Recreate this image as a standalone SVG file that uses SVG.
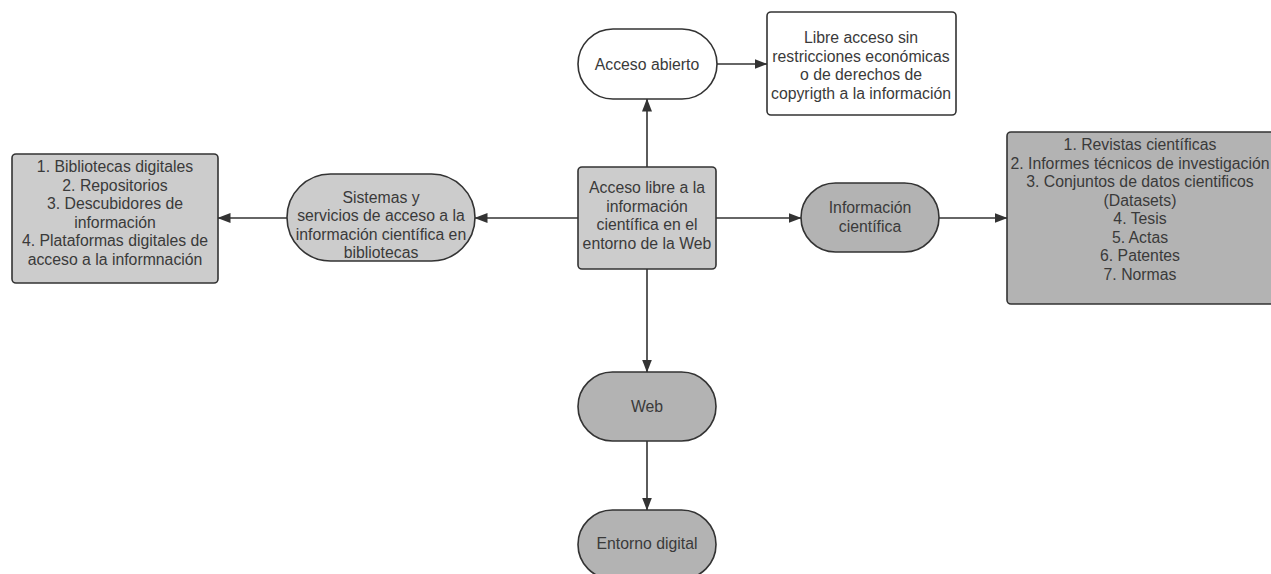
<svg xmlns="http://www.w3.org/2000/svg" width="1271" height="574" viewBox="0 0 1271 574">
<defs>
<marker id="ah" viewBox="0 0 13 10" refX="12.5" refY="5" markerWidth="13" markerHeight="10" markerUnits="userSpaceOnUse" orient="auto">
<path d="M0,0 L13,5 L0,10 Z" fill="#333333"/>
</marker>
<style>
.n{stroke:#333333;stroke-width:1.6}
.l{fill:#cccccc}
.d{fill:#b3b3b3}
.w{fill:#ffffff}
text{font-family:"Liberation Sans",Arial,sans-serif;font-size:15.8px;fill:#3a3a3a;text-anchor:middle}
.c{fill:none;stroke:#333333;stroke-width:1.6;marker-end:url(#ah)}
</style>
</defs>
<rect width="1271" height="574" fill="#ffffff"/>
<g id="connectors">
<path class="c" d="M647,167 V99"/>
<path class="c" d="M717,64 H767"/>
<path class="c" d="M716,218 H801"/>
<path class="c" d="M939,218 H1007"/>
<path class="c" d="M578,218 H475"/>
<path class="c" d="M287,218 H218"/>
<path class="c" d="M647,269 V372"/>
<path class="c" d="M647,441 V510"/>
</g>
<g id="acceso-abierto">
<rect class="n w" x="578" y="29" width="139" height="70" rx="35"/>
<text x="647" y="69.5">Acceso abierto</text>
</g>
<g id="libre-acceso">
<rect class="n w" x="767" y="12" width="189" height="103" rx="4"/>
<text x="861" y="43">Libre acceso sin</text>
<text x="861" y="61.5">restricciones económicas</text>
<text x="861" y="80">o de derechos de</text>
<text x="861" y="98.5">copyrigth a la información</text>
</g>
<g id="central">
<rect class="n l" x="578" y="167" width="138" height="102" rx="4"/>
<text x="647" y="193">Acceso libre a la</text>
<text x="647" y="211.5">información</text>
<text x="647" y="230">científica en el</text>
<text x="647" y="248.5">entorno de la Web</text>
</g>
<g id="informacion-cientifica">
<rect class="n d" x="801" y="183" width="138" height="69" rx="34.5"/>
<text x="870" y="213">Información</text>
<text x="870" y="231.5">científica</text>
</g>
<g id="lista-informacion">
<rect class="n d" x="1007" y="132" width="290" height="172" rx="4"/>
<text x="1140" y="150">1. Revistas científicas</text>
<text x="1140" y="168.5">2. Informes técnicos de investigación</text>
<text x="1140" y="187">3. Conjuntos de datos cientificos</text>
<text x="1140" y="205.5">(Datasets)</text>
<text x="1140" y="224">4. Tesis</text>
<text x="1140" y="242.5">5. Actas</text>
<text x="1140" y="261">6. Patentes</text>
<text x="1140" y="279.5">7. Normas</text>
</g>
<g id="sistemas">
<rect class="n l" x="287" y="174" width="188" height="87" rx="43.5"/>
<text x="381" y="202.5">Sistemas y</text>
<text x="381" y="221">servicios de acceso a la</text>
<text x="381" y="239.5">información científica en</text>
<text x="381" y="258">bibliotecas</text>
</g>
<g id="lista-bibliotecas">
<rect class="n l" x="12" y="154" width="206" height="129" rx="4"/>
<text x="115" y="172">1. Bibliotecas digitales</text>
<text x="115" y="190.5">2. Repositorios</text>
<text x="115" y="209">3. Descubidores de</text>
<text x="115" y="227.5">información</text>
<text x="115" y="246">4. Plataformas digitales de</text>
<text x="115" y="264.5">acceso a la informnación</text>
</g>
<g id="web">
<rect class="n d" x="578" y="372" width="138" height="69" rx="34.5"/>
<text x="647" y="411.5">Web</text>
</g>
<g id="entorno-digital">
<rect class="n d" x="578" y="510" width="138" height="69" rx="34.5"/>
<text x="647" y="548.5">Entorno digital</text>
</g>
</svg>
